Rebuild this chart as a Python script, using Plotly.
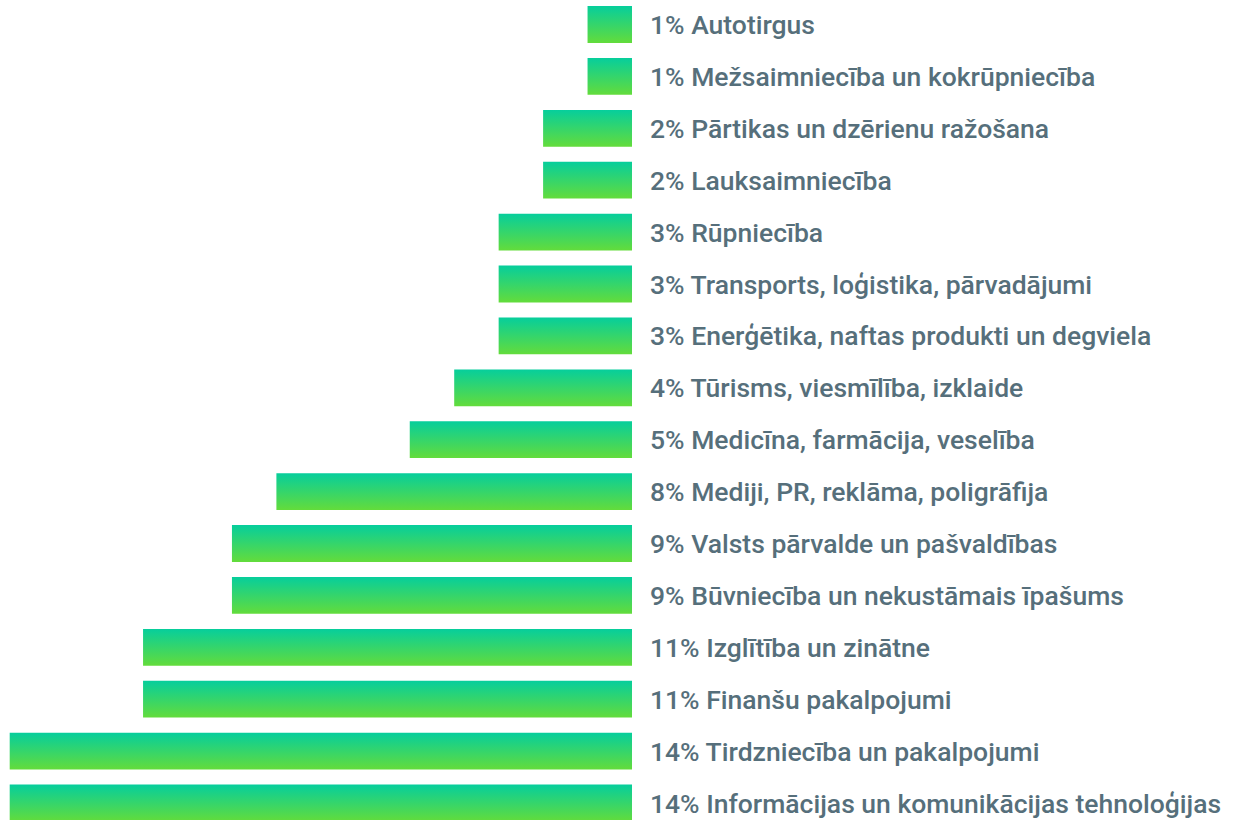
import plotly.graph_objects as go

categories = [
    "Autotirgus",
    "Mežsaimniecība un kokrūpniecība",
    "Pārtikas un dzērienu ražošana",
    "Lauksaimniecība",
    "Rūpniecība",
    "Transports, loģistika, pārvadājumi",
    "Enerģētika, naftas produkti un degviela",
    "Tūrisms, viesmīlība, izklaide",
    "Medicīna, farmācija, veselība",
    "Mediji, PR, reklāma, poligrāfija",
    "Valsts pārvalde un pašvaldības",
    "Būvniecība un nekustāmais īpašums",
    "Izglītība un zinātne",
    "Finanšu pakalpojumi",
    "Tirdzniecība un pakalpojumi",
    "Informācijas un komunikācijas tehnoloģijas",
]
values = [1, 1, 2, 2, 3, 3, 3, 4, 5, 8, 9, 9, 11, 11, 14, 14]

TOP = "#06ce9c"
BOTTOM = "#63dc3b"
TEXT = "#566f7b"
HALF = 0.355

n = len(categories)
fig = go.Figure()
for i, (cat, v) in enumerate(zip(categories, values)):
    yc = n - 1 - i
    fig.add_trace(go.Scatter(
        x=[0, -v, -v, 0, 0],
        y=[yc - HALF, yc - HALF, yc + HALF, yc + HALF, yc - HALF],
        mode="lines",
        line=dict(width=0),
        fill="toself",
        fillgradient=dict(type="vertical", colorscale=[[0, BOTTOM], [1, TOP]]),
        hoverinfo="skip",
        showlegend=False,
    ))
    fig.add_annotation(
        x=0, y=yc, text=f"{v}% {cat}", showarrow=False,
        xanchor="left", yanchor="middle", xshift=16,
        font=dict(family="Roboto", size=26.5, color=TEXT, weight=500),
    )

ppu = 44.45
fig.update_layout(
    width=1238, height=820,
    margin=dict(l=0, r=0, t=0, b=0),
    paper_bgcolor="white", plot_bgcolor="white",
    xaxis=dict(range=[-632 / ppu, (1238 - 632) / ppu], visible=False, fixedrange=True),
    yaxis=dict(range=[(n - 1) - (820 - 24.5) / 51.9, (n - 1) + 24.5 / 51.9], visible=False, fixedrange=True),
)
fig.write_html(
    "out.html",
    config={"displayModeBar": False},
    post_script="document.body.style.margin='0';document.body.style.overflow='hidden';",
)
